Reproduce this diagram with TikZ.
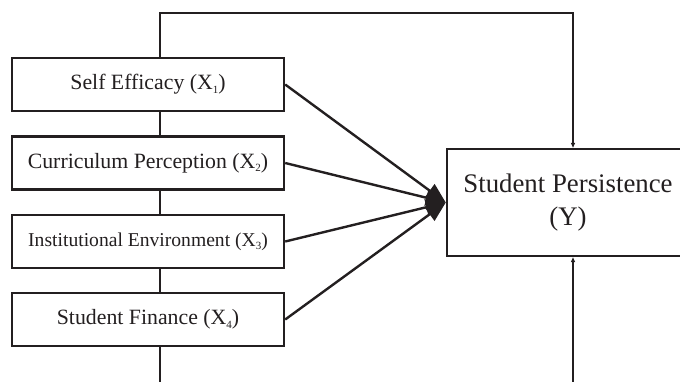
\documentclass[tikz,border=0pt]{standalone}
\usepackage{fontspec}
\setmainfont{Liberation Serif}
\usetikzlibrary{arrows.meta}
\definecolor{ink}{HTML}{231F20}
\newcommand{\xsub}[1]{\raisebox{-0.35ex}{\fontsize{5.5}{6}\selectfont #1}}
\begin{document}
\begin{tikzpicture}[x=0.5pt,y=-0.5pt,
  line width=1.2pt, draw=ink, text=ink,
  varbox/.style={draw, fill=white, minimum width=136pt, minimum height=26.5pt, inner sep=0pt, font=\fontsize{10.9}{13}\selectfont},
  outbox/.style={draw, fill=white, minimum width=121pt, minimum height=53.5pt, inner sep=0pt, align=center, font=\fontsize{13.4}{16.5}\selectfont},
  effect/.style={-{Triangle[length=10pt,width=8pt]}},
  loop/.style={-{Triangle[length=2.5pt,width=2pt]}}]
\useasboundingbox (0,0) rectangle (680,381);
\clip (0,0) rectangle (680,381);

\node[varbox] (b1) at (148,84.5) {Self Efficacy (X\xsub{1})};
\node[varbox] (b2) at (148,163) {Curriculum Perception (X\xsub{2})};
\node[varbox, font=\fontsize{9.8}{12}\selectfont] (b3) at (148,241.5) {Institutional Environment (X\xsub{3})};
\node[varbox] (b4) at (148,319.5) {Student Finance (X\xsub{4})};

\node[outbox] (yb) at (568,202.5) {Student Persistence\\(Y)};

\coordinate (topl) at (573,13);
\coordinate (botl) at (573,392);

% links between the boxes on the left
\draw (b1.south -| 160,0) -- (b2.north -| 160,0);
\draw (b2.south -| 160,0) -- (b3.north -| 160,0);
\draw (b3.south -| 160,0) -- (b4.north -| 160,0);

\draw[effect] (b1.east) -- (yb.west);
\draw[effect] (b2.east) -- (yb.west);
\draw[effect] (b3.east) -- (yb.west);
\draw[effect] (b4.east) -- (yb.west);

% loop over the top and under the bottom
\draw[loop] (b1.north -| 160,0) |- (topl) -- (topl |- yb.north);
\draw[loop] (b4.south -| 160,0) |- (botl) -- (botl |- yb.south);
\end{tikzpicture}
\end{document}
